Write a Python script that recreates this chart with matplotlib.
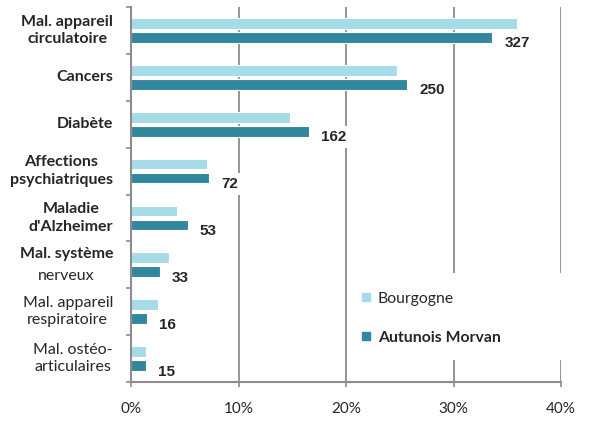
import matplotlib
matplotlib.use("Agg")
import matplotlib.pyplot as plt
from matplotlib.lines import Line2D
from matplotlib.patches import Rectangle

plt.rcParams['font.family'] = ['Lato', 'DejaVu Sans']

# data (percent of cases, counts shown for Autunois Morvan)
categories = ["Mal. appareil\ncirculatoire", "Cancers", "Diabète",
              "Affections\npsychiatriques", "Maladie\nd'Alzheimer",
              "Mal. système\nnerveux", "Mal. appareil\nrespiratoire",
              "Mal. ostéo-\narticulaires"]
bold_labels = [True, True, True, True, True, None, False, False]
bourgogne = [35.9, 24.7, 14.8, 7.1, 4.3, 3.5, 2.5, 1.4]
autunois = [33.6, 25.7, 16.6, 7.3, 5.3, 2.7, 1.5, 1.4]
counts = [327, 250, 162, 72, 53, 33, 16, 15]
xticks = [0, 10, 20, 30, 40]

c_bourg = '#a6dce8'
c_aut = '#31879e'
grey = '#8c8c90'
txt = '#262626'

fig = plt.figure(figsize=(5.92, 4.21), dpi=100)
ax = fig.add_axes([131/592, 39/421, 430/592, 375/421])

ypos = list(range(len(categories)))
off = 0.15
h = 0.23
ax.barh([y - off for y in ypos], bourgogne, height=h, color=c_bourg,
        edgecolor='white', linewidth=0.8, zorder=2)
ax.barh([y + off for y in ypos], autunois, height=h, color=c_aut,
        edgecolor='white', linewidth=0.8, zorder=2)

ax.set_ylim(len(categories) - 0.5, -0.5)
ax.set_xlim(0, 40)

# value labels
for y, v, n in zip(ypos, autunois, counts):
    ax.annotate(str(n), xy=(v, y + off), xytext=(12, -6), textcoords='offset pixels',
                ha='left', va='center', fontsize=11, fontweight='bold',
                family='Liberation Sans', color=txt, zorder=2.2,
                bbox=dict(boxstyle='square,pad=0.25', fc='white', ec='none'))

# category labels
fs = 11.5
ytr = ax.get_yaxis_transform()
for y, lab, b in zip(ypos, categories, bold_labels):
    if b is None:
        l1, l2 = lab.split("\n")
        ax.annotate(l1, xy=(0, y), xycoords=ytr, xytext=(-18, 11), textcoords='offset pixels',
                    ha='right', va='center', fontsize=fs, fontweight='bold', color=txt)
        ax.annotate(l2, xy=(0, y), xycoords=ytr, xytext=(-65, -11), textcoords='offset pixels',
                    ha='center', va='center', fontsize=fs, color=txt)
    else:
        ax.annotate(lab, xy=(0, y), xycoords=ytr, xytext=(-18, 0), textcoords='offset pixels',
                    ha='right', va='center', multialignment='center', linespacing=1.3,
                    fontsize=fs, fontweight='bold' if b else 'normal', color=txt)

# axes styling
ax.set_xticks(xticks)
ax.set_xticklabels([f"{t}%" for t in xticks], fontsize=11, color=txt)
ax.set_yticks([])
ax.set_yticks([y - 0.5 for y in range(len(categories) + 1)], minor=True)
ax.tick_params(axis='x', length=3.6, width=1.2, color=grey, pad=11)
ax.tick_params(axis='y', which='minor', length=3.6, width=1.2, color=grey)
for s in ['top', 'right']:
    ax.spines[s].set_visible(False)
for s in ['left', 'bottom']:
    ax.spines[s].set_color(grey)
    ax.spines[s].set_linewidth(1.5)
ax.set_axisbelow(True)
ax.grid(axis='x', color=grey, linewidth=1.3)

# legend with white area behind
ax.add_patch(Rectangle((0.52, 0.059), 0.49, 0.232, transform=ax.transAxes,
                       facecolor='white', edgecolor='none', zorder=1.5, clip_on=False))
handles = [Line2D([], [], marker='s', linestyle='none', color=c_bourg, markersize=6),
           Line2D([], [], marker='s', linestyle='none', color=c_aut, markersize=6)]
leg = ax.legend(handles, ["Bourgogne", "Autunois Morvan"], loc='upper left',
                bbox_to_anchor=(0.517, 0.262), frameon=False, fontsize=11.3,
                handlelength=0.6, handletextpad=0.45, labelspacing=1.6, borderpad=0)
leg.get_texts()[1].set_fontweight('bold')
for t in leg.get_texts():
    t.set_color(txt)

fig.savefig("out.png", dpi=100)
